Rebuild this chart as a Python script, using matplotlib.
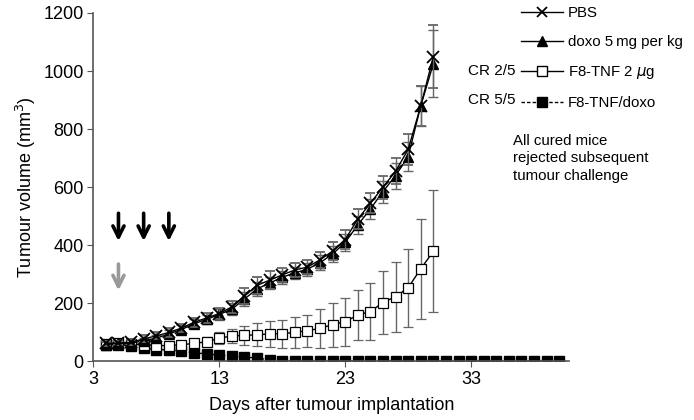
import numpy as np
import matplotlib
matplotlib.use("Agg")
import matplotlib.pyplot as plt
from matplotlib.lines import Line2D

plt.rcParams["font.family"] = ["Liberation Sans", "DejaVu Sans"]

# days after tumour implantation
days = np.arange(4, 31)
days_combo = np.arange(4, 41)

pbs = [62, 64, 66, 78, 88, 100, 115, 135, 150, 165, 188, 225, 262, 280, 298,
       315, 325, 350, 380, 420, 490, 545, 600, 655, 730, 880, 1050]
pbs_err = [8, 8, 10, 12, 12, 14, 15, 15, 18, 20, 22, 28, 30, 30, 25, 25, 25,
           28, 30, 32, 35, 35, 40, 45, 55, 70, 110]

doxo = [58, 62, 63, 72, 80, 95, 110, 130, 145, 162, 180, 215, 250, 270, 290,
        305, 318, 340, 370, 410, 470, 525, 585, 640, 705, 880, 1025]
doxo_err = [8, 8, 10, 10, 12, 12, 14, 15, 16, 18, 20, 25, 25, 22, 22, 22, 22,
            25, 28, 30, 32, 35, 38, 45, 50, 70, 115]

f8tnf = [60, 62, 60, 58, 55, 55, 58, 62, 68, 80, 88, 90, 92, 95, 96, 100, 106,
         114, 127, 137, 160, 172, 203, 223, 254, 319, 379]
f8tnf_err = [8, 8, 8, 8, 8, 8, 10, 12, 15, 20, 25, 32, 40, 44, 48, 52, 55, 66,
             76, 83, 86, 98, 107, 121, 134, 172, 210]

combo = [58, 58, 54, 46, 41, 40, 35, 30, 26, 22, 19, 15, 12, 6] + [3] * 23
combo_err = [8] * 13 + [2] * 24

labels = ["PBS", "doxo 5\u2009mg per kg", "F8-TNF 2 $\\mu$g", "F8-TNF/doxo"]
cr_labels = ["", "", "CR 2/5", "CR 5/5"]
note = "All cured mice\nrejected subsequent\ntumour challenge"

# treatment days (black: F8-TNF, grey: doxo)
tnf_days = [5, 7, 9]
doxo_days = [5]

fig = plt.figure(figsize=(6.94, 4.2), dpi=100)
ax = fig.add_axes([0.1344, 0.1393, 0.686, 0.8298])

ecol = "#666666"
kw = dict(ecolor=ecol, elinewidth=1, capsize=3.5, capthick=1, color="black", lw=1)

ax.errorbar(days_combo, combo, yerr=combo_err, marker="s", ms=7.5, mfc="black",
            mec="black", ls=(0, (2.5, 1.5)), zorder=2, **kw)
ax.errorbar(days, f8tnf, yerr=f8tnf_err, marker="s", ms=7.5, mfc="white",
            mec="black", mew=0.9, ls="-", zorder=3, **kw)
ax.errorbar(days, doxo, yerr=doxo_err, marker="^", ms=7.5, mfc="black",
            mec="black", ls="-", zorder=4, **kw)
ax.errorbar(days, pbs, yerr=pbs_err, marker="x", ms=8, mew=1.3, ls="-",
            zorder=5, **kw)

for d in tnf_days:
    ax.annotate("", xy=(d, 405), xytext=(d, 520),
                arrowprops=dict(arrowstyle="->", lw=2.6, color="black",
                                mutation_scale=20))
for d in doxo_days:
    ax.annotate("", xy=(d, 235), xytext=(d, 345),
                arrowprops=dict(arrowstyle="->", lw=2.6, color="#999999",
                                mutation_scale=20))

ax.set_xlim(3, 40.8)
ax.set_ylim(0, 1200)
ax.set_xticks([3, 13, 23, 33])
ax.set_yticks(np.arange(0, 1201, 200))
for s in ["top", "right"]:
    ax.spines[s].set_visible(False)
for s in ["left", "bottom"]:
    ax.spines[s].set_color("#555555")
    ax.spines[s].set_linewidth(1.2)
ax.tick_params(direction="out", length=4, color="#555555", labelsize=13, pad=3)
ax.set_xlabel("Days after tumour implantation", fontsize=13, labelpad=6)
ax.set_ylabel("Tumour volume (mm$^3$)", fontsize=13, labelpad=4)

handles = [
    Line2D([], [], color="black", lw=1, marker="x", ms=7.5, mew=1.3),
    Line2D([], [], color="black", lw=1, marker="^", ms=6.5, mfc="black"),
    Line2D([], [], color="black", lw=1, marker="s", ms=6.5, mfc="white"),
    Line2D([], [], color="black", lw=1, marker="s", ms=6.5, mfc="black",
           ls=(0, (2.5, 1.5))),
]
fig.legend(handles, labels, loc="upper left", bbox_to_anchor=(521 / 694, 1 - 6 / 420),
           frameon=False, fontsize=10.8, handlelength=2.8, handletextpad=0.3,
           labelspacing=1.0, borderpad=0, borderaxespad=0)

row_y = [14, 43, 71, 100]
for lab, y in zip(cr_labels, row_y):
    if lab:
        fig.text(515 / 694, 1 - y / 420, lab, ha="right", va="center", fontsize=11)

fig.text(513 / 694, 1 - 134 / 420, note, ha="left", va="top", fontsize=10.8,
         linespacing=1.3)

fig.savefig("out.png", dpi=100)
